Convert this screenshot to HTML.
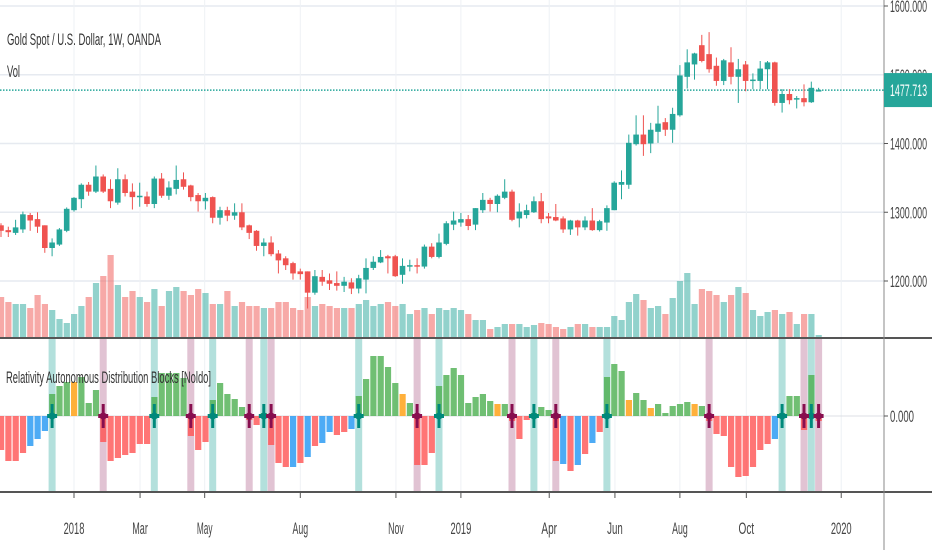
<!DOCTYPE html>
<html><head><meta charset="utf-8"><style>
html,body{margin:0;padding:0;background:#fff;}
svg{display:block;font-family:"Liberation Sans",sans-serif;}
</style></head><body>
<svg id="chart" width="932" height="550" viewBox="0 0 932 550" xmlns="http://www.w3.org/2000/svg">
<g id="grid"></g>
<g id="volume"></g>
<g id="candles"></g>
<g id="ind"></g>
<g id="axes"></g>
<text x="7" y="45" font-size="17" fill="#333" textLength="154" lengthAdjust="spacingAndGlyphs">Gold Spot / U.S. Dollar, 1W, OANDA</text>
<text x="7" y="77" font-size="17" fill="#333" textLength="13" lengthAdjust="spacingAndGlyphs">Vol</text>
<text x="6" y="383" font-size="17" fill="#333" textLength="205" lengthAdjust="spacingAndGlyphs">Relativity Autonomous Distribution Blocks [Noldo]</text>
</svg>
<script>
const opens=[1281,1274,1270,1275,1296,1290,1281,1248,1253,1273,1303,1319,1340,1330,1352,1334,1314,1348,1330,1322,1323,1312,1349,1324,1334,1348,1339,1325,1316,1322,1292,1303,1295,1300,1281,1273,1251,1256,1240,1233,1226,1214,1214,1183,1206,1201,1197,1193,1198,1189,1202,1219,1227,1236,1236,1209,1221,1223,1221,1250,1235,1254,1282,1285,1290,1282,1303,1318,1312,1321,1330,1291,1296,1300,1316,1294,1293,1291,1275,1288,1278,1288,1274,1285,1303,1340,1340,1399,1413,1400,1417,1431,1420,1441,1497,1515,1543,1530,1513,1491,1518,1497,1515,1491,1491,1508,1518,1459,1472,1464,1466,1460,1476];
const highs=[1284,1279,1289,1301,1299,1300,1281,1262,1277,1307,1322,1342,1344,1368,1355,1348,1364,1355,1342,1343,1330,1352,1357,1345,1368,1358,1340,1328,1328,1323,1308,1308,1313,1313,1282,1274,1262,1265,1245,1236,1228,1218,1214,1216,1216,1211,1214,1206,1204,1209,1233,1236,1245,1238,1238,1233,1231,1233,1253,1255,1269,1287,1301,1299,1296,1306,1328,1321,1326,1348,1333,1313,1311,1323,1328,1299,1312,1294,1289,1289,1294,1306,1289,1310,1345,1361,1413,1441,1441,1430,1455,1437,1452,1514,1537,1532,1558,1562,1525,1523,1540,1523,1520,1502,1520,1520,1519,1479,1479,1469,1486,1490,1481];
const lows=[1264,1264,1267,1270,1273,1270,1241,1236,1251,1271,1301,1306,1324,1328,1328,1306,1311,1323,1304,1308,1308,1306,1321,1318,1326,1333,1316,1301,1304,1284,1282,1287,1289,1274,1261,1244,1236,1236,1211,1216,1202,1202,1160,1180,1193,1187,1186,1184,1181,1182,1182,1216,1226,1211,1206,1196,1214,1211,1218,1233,1233,1252,1274,1279,1274,1274,1299,1301,1300,1319,1287,1278,1291,1299,1284,1284,1287,1270,1267,1266,1274,1273,1272,1273,1303,1319,1334,1397,1382,1386,1401,1411,1401,1439,1480,1493,1518,1503,1484,1485,1486,1459,1476,1479,1479,1479,1455,1445,1457,1451,1454,1459,1476];
const closes=[1273,1271,1278,1297,1288,1279,1248,1256,1275,1305,1321,1340,1330,1352,1330,1316,1348,1328,1322,1324,1312,1349,1324,1336,1347,1337,1322,1316,1321,1292,1303,1295,1300,1278,1270,1251,1256,1239,1230,1223,1211,1210,1183,1207,1199,1196,1193,1199,1189,1204,1219,1228,1235,1233,1207,1222,1223,1221,1250,1235,1256,1284,1288,1290,1280,1306,1318,1312,1324,1330,1289,1301,1303,1316,1290,1291,1288,1275,1288,1278,1288,1274,1287,1306,1343,1344,1401,1413,1399,1420,1429,1420,1443,1499,1518,1531,1520,1508,1491,1521,1497,1508,1491,1493,1509,1518,1459,1472,1463,1466,1460,1481,1477.713];
const volumes=[40,35,33,33,29,42,33,27,18,14,23,31,40,54,61,82,52,40,46,40,35,48,31,46,50,46,42,48,44,33,33,46,31,35,31,31,29,29,35,35,29,27,40,31,33,31,29,29,29,33,37,31,33,35,31,33,23,27,29,23,29,27,29,27,23,17,17,8,10,13,13,13,10,12,14,13,10,8,10,13,13,10,10,10,21,17,35,43,37,29,31,23,39,56,64,33,48,46,42,35,42,50,44,27,21,25,27,23,25,13,23,23,2];
const indValues=[-34,-45,-45,-37,-30,-23,-15,22,30,34,34,39,13,26,-26,-45,-42,-39,-37,-28,-28,19,43,43,43,38,-20,-34,-26,16,33,22,17,9,-4,-9,3,-29,-47,-51,-51,-47,-41,-30,-27,-16,-19,-16,-13,20,37,60,60,49,33,22,13,-49,-49,-37,30,41,48,41,13,19,22,15,12,12,-5,-23,-4,3,9,6,-45,-48,-55,-49,-38,-27,-16,39,52,45,16,23,16,8,12,3,10,12,14,12,10,-5,-18,-20,-51,-61,-60,-51,-34,-28,-23,3,20,20,-14,41,-5];
const indColors=["r","r","r","r","b","b","b","g","g","g","o","g","g","g","r","r","r","r","r","r","r","g","g","g","g","g","r","r","r","g","g","g","g","g","r","r","g","r","r","r","b","r","b","r","b","b","r","r","b","g","g","g","g","g","g","o","g","r","r","r","g","g","g","g","g","g","g","g","o","g","r","r","r","g","g","g","r","b","r","b","r","b","r","g","g","g","o","g","g","o","g","g","g","g","g","o","g","r","r","r","r","r","r","r","r","r","b","g","g","g","r","g","r"];
const upSignals=[7,21,29,36,49,60,73,83,107,111];
const downSignals=[14,26,34,37,57,70,76,97,110,112];
const priceTicks=[1600,1500,1400,1300,1200];
const priceTickLabels=["1600.000","1500.000","1400.000","1300.000","1200.000"];
const timeTickIdx=[10,19.05,27.9,41,54.1,63,75.1,84.1,93,102.1,115.1];
const timeTickLabels=["2018","Mar","May","Aug","Nov","2019","Apr","Jun","Aug","Oct","2020"];
const lastPrice=1477.713;

const NS="http://www.w3.org/2000/svg";
const X=i=>1+7.3*i;
const PY=p=>281-(p-1200)*0.6875;
const VOLBASE=337, VOLS=1;
const ZERO=416, IS=1;
const IND_TOP=339, IND_BOT=491, AXIS_X=884;
function mk(tag,attrs,parent){const e=document.createElementNS(NS,tag);for(const k in attrs)e.setAttribute(k,attrs[k]);parent.appendChild(e);return e;}
const grid=document.getElementById('grid'),vol=document.getElementById('volume'),cd=document.getElementById('candles'),ind=document.getElementById('ind'),ax=document.getElementById('axes');

priceTicks.forEach((p,k)=>{
  const l=mk('line',{x1:0,x2:AXIS_X,y1:PY(p),y2:PY(p),stroke:'#e6eaf0','stroke-width':1.5},grid);
  
  
});
timeTickIdx.forEach((t,k)=>{
  const l=mk('line',{x1:X(t),x2:X(t),y1:0,y2:492,stroke:'#eef1f5','stroke-width':1},grid);
  
  
});
const zl=mk('line',{x1:0,x2:AXIS_X,y1:ZERO,y2:ZERO,stroke:'#dcdfe4','stroke-width':1},grid);



volumes.forEach((v,i)=>{
  const up=closes[i]>=opens[i];
  const r=mk('rect',{x:X(i)-3,y:VOLBASE-v*VOLS,width:6.2,height:v*VOLS,fill:up?'rgba(38,166,154,0.5)':'rgba(239,83,80,0.5)'},vol);
  
  
});

const pl=mk('line',{x1:0,x2:AXIS_X,y1:PY(lastPrice),y2:PY(lastPrice),stroke:'#26a69a','stroke-width':1.5,'stroke-dasharray':'1.5 1.5'},cd);



closes.forEach((c,i)=>{
  const o=opens[i],up=c>=o,col=up?'#26a69a':'#ef5350';
  const w=mk('line',{x1:X(i),x2:X(i),y1:PY(highs[i]),y2:PY(lows[i]),stroke:col,'stroke-width':1},cd);
  
  
  const top=PY(Math.max(o,c)),bot=PY(Math.min(o,c));
  const b=mk('rect',{x:X(i)-2.8,y:top,width:5.6,height:Math.max(1.5,bot-top),fill:col},cd);
  
  
});

upSignals.forEach(i=>{
  const r=mk('rect',{x:X(i)-3.5,y:IND_TOP,width:7,height:IND_BOT-IND_TOP,fill:'rgba(38,166,154,0.35)'},ind);
  
  
});
downSignals.forEach(i=>{
  const r=mk('rect',{x:X(i)-3.5,y:IND_TOP,width:7,height:IND_BOT-IND_TOP,fill:'rgba(136,14,79,0.25)'},ind);
  
  
});
const cmap={g:'rgba(76,175,80,0.8)',r:'rgba(255,82,82,0.8)',b:'rgba(33,150,243,0.8)',o:'rgba(255,167,38,0.9)'};
indValues.forEach((v,i)=>{
  const y=v>=0?ZERO-v*IS:ZERO, h=Math.abs(v)*IS;
  const r=mk('rect',{x:X(i)-3,y:y,width:6.2,height:h,fill:cmap[indColors[i]]},ind);
  
  
});
function cross(i,col,name){
  const g=mk('g',{},ind);
  
  
  mk('rect',{x:X(i)-1.5,y:ZERO-12,width:3,height:24,fill:col},g);
  mk('rect',{x:X(i)-5,y:ZERO-2,width:10,height:4,fill:col},g);
  mk('circle',{cx:X(i),cy:ZERO,r:3.5,fill:col},g);
}
upSignals.forEach(i=>cross(i,'#00897b','buy-signal-marker'));
downSignals.forEach(i=>cross(i,'#880e4f','sell-signal-marker'));

[338,492].forEach(y=>{
  const l=mk('line',{x1:0,x2:932,y1:y,y2:y,stroke:'#555','stroke-width':2},ax);
  
  
});
const al=mk('line',{x1:AXIS_X,x2:AXIS_X,y1:0,y2:550,stroke:'#888','stroke-width':1},ax);


priceTicks.forEach((p,k)=>{
  mk('line',{x1:AXIS_X,x2:AXIS_X+4,y1:PY(p),y2:PY(p),stroke:'#555'},ax);
  const t=mk('text',{x:AXIS_X+6,y:PY(p)+6,'font-size':17,fill:'#444',textLength:37,lengthAdjust:'spacingAndGlyphs'},ax);
  t.textContent=priceTickLabels[k];
  
  
});
mk('line',{x1:AXIS_X,x2:AXIS_X+4,y1:ZERO,y2:ZERO,stroke:'#555'},ax);
const zt=mk('text',{x:AXIS_X+6,y:ZERO+6,'font-size':17,fill:'#444',textLength:24,lengthAdjust:'spacingAndGlyphs'},ax);
zt.textContent='0.000';


const lb=mk('rect',{x:AXIS_X,y:PY(lastPrice)-17,width:48,height:34,fill:'#26a69a'},ax);


const lt=mk('text',{x:AXIS_X+6,y:PY(lastPrice)+6,'font-size':17,fill:'#fff',textLength:37,lengthAdjust:'spacingAndGlyphs'},ax);
lt.textContent=lastPrice.toFixed(3);


timeTickIdx.forEach((t,k)=>{
  mk('line',{x1:X(t),x2:X(t),y1:493,y2:498,stroke:'#555'},ax);
  const s=timeTickLabels[k];
  const tx=mk('text',{x:X(t),y:534,'font-size':17,fill:'#444','text-anchor':'middle',textLength:s.length*5.2,lengthAdjust:'spacingAndGlyphs'},ax);
  tx.textContent=s;
  
  
});
</script>
</body></html>
